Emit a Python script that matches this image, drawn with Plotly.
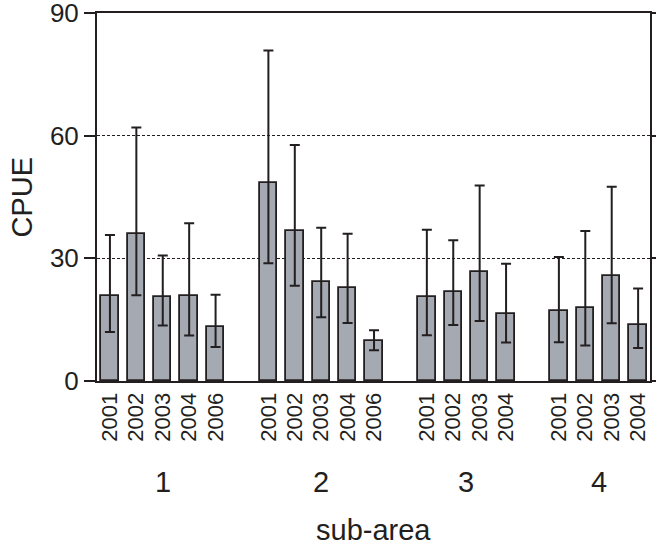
import plotly.graph_objects as go

# ---- data ----
sub_areas = ["1", "2", "3", "4"]
years_1 = ["2001", "2002", "2003", "2004", "2006"]
years_2 = ["2001", "2002", "2003", "2004", "2006"]
years_3 = ["2001", "2002", "2003", "2004"]
years_4 = ["2001", "2002", "2003", "2004"]

cpue_1 = [20.7, 35.9, 20.5, 20.8, 13.3]
cpue_2 = [48.4, 36.8, 24.3, 22.8, 9.8]
cpue_3 = [20.5, 21.7, 26.7, 16.4]
cpue_4 = [17.1, 17.9, 25.8, 13.7]

upper_1 = [35.7, 62.0, 30.7, 38.6, 21.1]
upper_2 = [80.8, 57.7, 37.5, 36.0, 12.4]
upper_3 = [37.0, 34.4, 47.8, 28.7]
upper_4 = [30.3, 36.7, 47.5, 22.6]

lower_1 = [12.0, 21.0, 13.6, 11.1, 8.3]
lower_2 = [28.8, 23.3, 15.6, 14.2, 7.5]
lower_3 = [11.2, 13.7, 14.7, 9.4]
lower_4 = [9.5, 8.7, 14.1, 8.1]

y_ticks = [0, 30, 60, 90]

groups = [
    (years_1, cpue_1, upper_1, lower_1),
    (years_2, cpue_2, upper_2, lower_2),
    (years_3, cpue_3, upper_3, lower_3),
    (years_4, cpue_4, upper_4, lower_4),
]

# build slot positions (one empty slot between sub-areas)
xs, ys, ups, downs, labels, centers = [], [], [], [], [], []
pos = 0
for yrs, vals, up, lo in groups:
    start = pos
    for yr, v, u, l in zip(yrs, vals, up, lo):
        xs.append(pos)
        ys.append(v)
        ups.append(u - v)
        downs.append(v - l)
        labels.append(yr)
        pos += 1
    centers.append((start + pos - 1) / 2)
    pos += 1

TEXT = "#231f20"
FONT = "Liberation Sans, Arial, sans-serif"

fig = go.Figure(
    go.Bar(
        x=xs,
        y=ys,
        width=0.66,
        marker=dict(color="#a4a9b2", line=dict(color="#231f20", width=1.8)),
        error_y=dict(
            type="data",
            symmetric=False,
            array=ups,
            arrayminus=downs,
            color="#231f20",
            thickness=2,
            width=5,
        ),
        showlegend=False,
    )
)

fig.update_layout(
    width=656,
    height=550,
    margin=dict(l=97, r=6, t=13, b=169),
    plot_bgcolor="white",
    paper_bgcolor="white",
    font=dict(family=FONT, color=TEXT),
    bargap=0,
)

fig.update_xaxes(
    range=[-0.49, 20.45],
    tickmode="array",
    tickvals=xs,
    ticktext=labels,
    tickangle=-90,
    tickfont=dict(size=22, color=TEXT),
    ticks="",
    ticklabelstandoff=1,
    showline=True,
    linecolor="#231f20",
    linewidth=2,
    mirror=True,
    showgrid=False,
    zeroline=False,
    automargin=False,
)

fig.update_yaxes(
    range=[0, 90],
    tickmode="array",
    tickvals=y_ticks,
    ticks="outside",
    ticklen=11,
    tickwidth=2,
    tickcolor="#231f20",
    tickfont=dict(size=26, color=TEXT),
    ticklabeloverflow="allow",
    showline=True,
    linecolor="#231f20",
    linewidth=2,
    mirror="ticks",
    showgrid=True,
    gridcolor="#231f20",
    gridwidth=1.2,
    griddash="3px,2px",
    zeroline=False,
    automargin=False,
)

for c, name in zip(centers, sub_areas):
    fig.add_annotation(
        x=c, y=-0.275, xref="x", yref="paper",
        text=name, showarrow=False,
        font=dict(size=29, color=TEXT, family=FONT),
        xanchor="center", yanchor="middle",
    )

fig.add_annotation(
    x=0.5, y=-0.405, xref="paper", yref="paper",
    text="sub-area", showarrow=False,
    font=dict(size=29, color=TEXT, family=FONT),
    xanchor="center", yanchor="middle",
)

fig.add_annotation(
    x=-0.1365, y=0.5, xref="paper", yref="paper",
    text="CPUE", showarrow=False, textangle=-90,
    font=dict(size=29, color=TEXT, family=FONT),
    xanchor="center", yanchor="middle",
)

fig.write_html(
    "out.html",
    config={"displayModeBar": False},
    post_script="document.body.style.margin='0';document.body.style.overflow='hidden';",
)
